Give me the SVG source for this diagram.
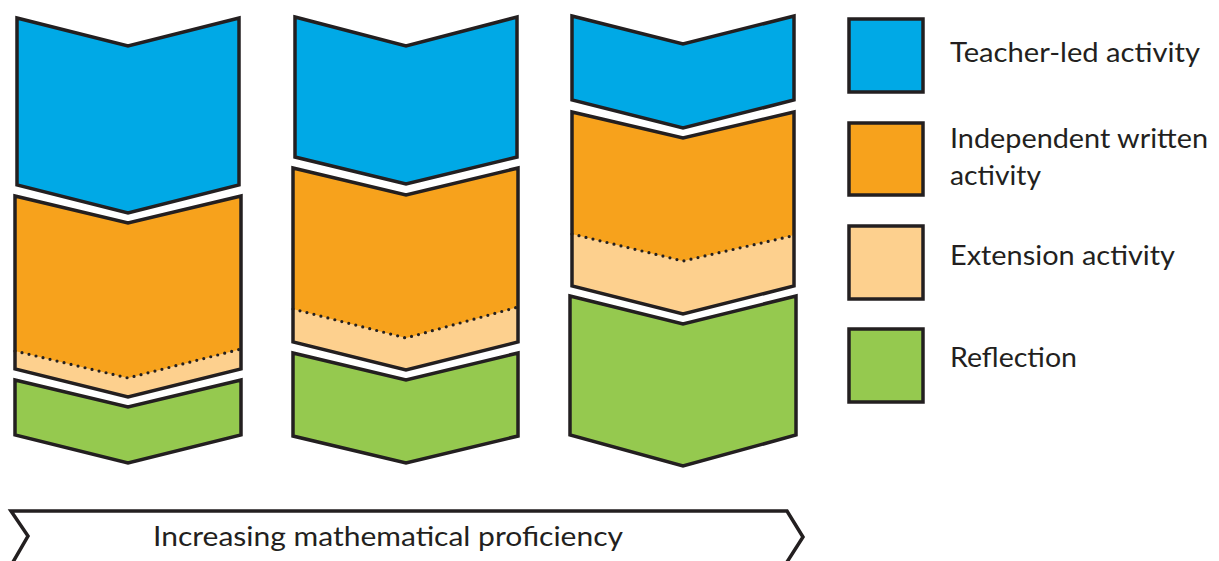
<svg xmlns="http://www.w3.org/2000/svg" width="1219" height="561" viewBox="0 0 1219 561">
  <style>
    .blk { stroke: #231f20; stroke-width: 3.5; stroke-linejoin: miter; }
    .teach { fill: #00a9e6; }
    .indep { fill: #f7a21c; }
    .ext { fill: #fdd08e; }
    .refl { fill: #95c94f; }
    .edge { fill: none; stroke: #231f20; stroke-width: 3.5; }
    .dots { fill: none; stroke: #231f20; stroke-width: 3.2; stroke-linecap: round; stroke-dasharray: 0 7.2; }
    .lbl { font-family: Lato, "Liberation Sans", sans-serif; font-size: 27px; fill: #231f20; }
  </style>

  <!-- Lesson 1 -->
  <g id="lesson1">
    <polygon class="blk teach" points="17,18 128,46 239,18 239,185 128,213 17,185"/>
    <polygon class="indep" points="15,196 128,223 241,196 241,369 128,397 15,369"/>
    <polygon class="ext" points="15,351 128,378 241,349 241,369 128,397 15,369"/>
    <polyline class="dots" points="15,351 128,378 241,349"/>
    <polygon class="edge" points="15,196 128,223 241,196 241,369 128,397 15,369"/>
    <polygon class="blk refl" points="15,380 128,407 241,380 241,435 128,463 15,435"/>
  </g>

  <!-- Lesson 2 -->
  <g id="lesson2">
    <polygon class="blk teach" points="295,17 406,46 517,17 517,157 406,184 295,157"/>
    <polygon class="indep" points="293,168 406,195 518,168 518,342 406,370 293,342"/>
    <polygon class="ext" points="293,309 406,338 518,307 518,342 406,370 293,342"/>
    <polyline class="dots" points="293,309 406,338 518,307"/>
    <polygon class="edge" points="293,168 406,195 518,168 518,342 406,370 293,342"/>
    <polygon class="blk refl" points="293,353 406,380 518,353 518,436 406,463 293,436"/>
  </g>

  <!-- Lesson 3 -->
  <g id="lesson3">
    <polygon class="blk teach" points="572,16 683,44 794,16 794,100 683,128 572,100"/>
    <polygon class="indep" points="572,112 683,138 794,112 794,286 683,314 572,286"/>
    <polygon class="ext" points="572,234 683,261 794,235 794,286 683,314 572,286"/>
    <polyline class="dots" points="572,234 683,261 796,235"/>
    <polygon class="edge" points="572,112 683,138 794,112 794,286 683,314 572,286"/>
    <polygon class="blk refl" points="570,296 683,324 796,296 796,435 683,466 570,435"/>
  </g>

  <!-- Progression band -->
  <g id="progression">
    <polyline class="edge" points="13,562 28,536 11,511 787,511 803,537 787,562"/>
    <text class="lbl" x="153" y="546" textLength="470" lengthAdjust="spacingAndGlyphs">Increasing mathematical proficiency</text>
  </g>

  <!-- Key -->
  <g id="key-teacher">
    <rect class="blk teach" x="849" y="19" width="74" height="73"/>
    <text class="lbl" x="950" y="62" textLength="250" lengthAdjust="spacingAndGlyphs">Teacher-led activity</text>
  </g>
  <g id="key-independent">
    <rect class="blk indep" x="849" y="123" width="74" height="72"/>
    <text class="lbl" x="950" y="148" textLength="258" lengthAdjust="spacingAndGlyphs">Independent written</text>
    <text class="lbl" x="950" y="185" textLength="91" lengthAdjust="spacingAndGlyphs">activity</text>
  </g>
  <g id="key-extension">
    <rect class="blk ext" x="849" y="226" width="74" height="73"/>
    <text class="lbl" x="950" y="265" textLength="225" lengthAdjust="spacingAndGlyphs">Extension activity</text>
  </g>
  <g id="key-reflection">
    <rect class="blk refl" x="849" y="329" width="74" height="73"/>
    <text class="lbl" x="950" y="367" textLength="127" lengthAdjust="spacingAndGlyphs">Reflection</text>
  </g>
</svg>
